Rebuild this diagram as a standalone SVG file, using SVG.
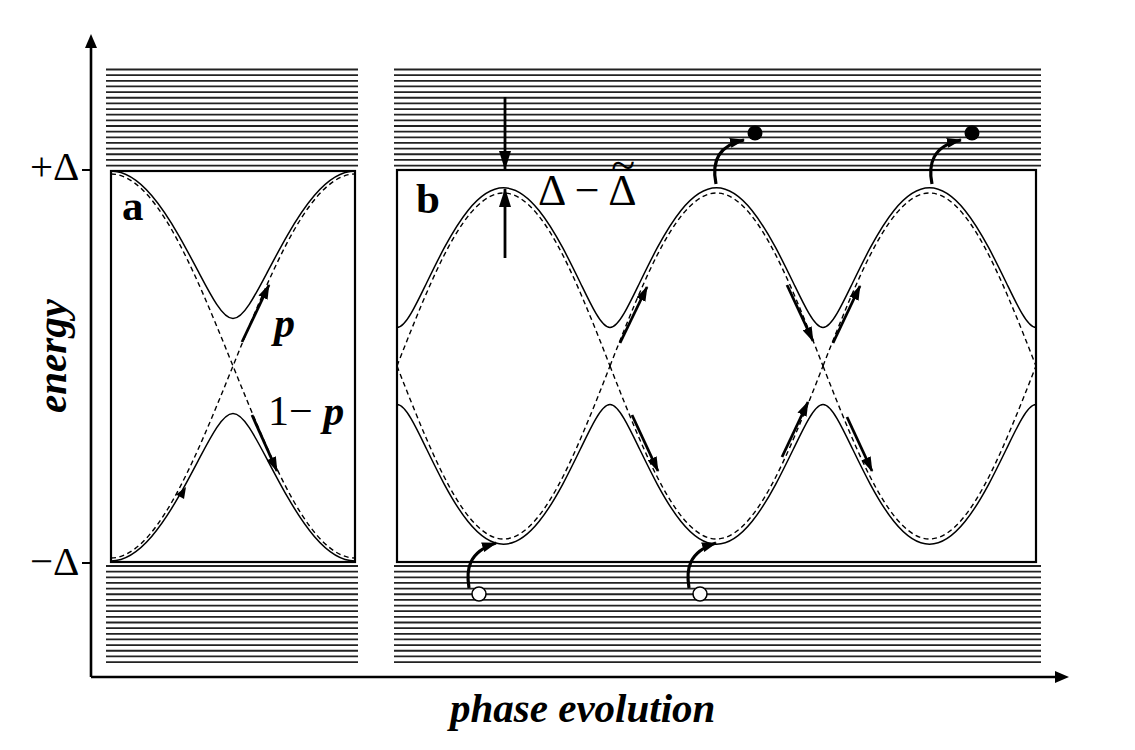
<svg xmlns="http://www.w3.org/2000/svg" xmlns:xlink="http://www.w3.org/1999/xlink" width="1135" height="750" viewBox="0 0 1135 750">
<style>
.hatch{fill:none;stroke:#222;stroke-width:1.8}
.box{fill:none;stroke:#000;stroke-width:2.2}
.arr{fill:none;stroke:#000;stroke-width:2.8}
.carr{fill:none;stroke:#000;stroke-width:3.2}
.serif{font-family:"Liberation Serif","Times New Roman",serif;fill:#000}
.bi{font-weight:bold;font-style:italic}
</style>
<defs>
<marker id="ah" viewBox="0 0 15 10" refX="14" refY="5" markerWidth="15" markerHeight="10" markerUnits="userSpaceOnUse" orient="auto"><path d="M0,0L15,5L0,10z" fill="#000"/></marker>
<marker id="ahL" viewBox="0 0 19 12" refX="18" refY="6" markerWidth="19" markerHeight="12" markerUnits="userSpaceOnUse" orient="auto"><path d="M0,0L19,6L0,12z" fill="#000"/></marker>
<path id="aU" fill="none" stroke="#000" stroke-width="1.5" d="M111,171.12 C124.55,171.12 138.11,179.73 151.66,195.57 C160.70,206.13 169.74,219.87 178.78,235.56 C185.56,247.33 192.33,260.22 199.11,273.07 C204.98,284.20 210.86,295.44 216.73,304.35 C222.15,312.58 227.58,318.5 233,318.5 C238.42,318.5 243.85,312.58 249.27,304.35 C255.14,295.44 261.02,284.20 266.89,273.07 C273.67,260.22 280.44,247.33 287.22,235.56 C296.26,219.87 305.30,206.13 314.34,195.57 C327.89,179.73 341.45,171.12 355,171.12"/>
<path id="aD" fill="none" stroke="#000" stroke-width="1.4" stroke-dasharray="5 3.5" d="M111,174 C131.33,174 151.67,194.70 172,230.24 C192.33,265.78 212.67,315.74 233,366 C253.33,416.26 273.67,466.22 294,501.76 C314.33,537.30 334.67,558 355,558"/>
<path id="bU" fill="none" stroke="#000" stroke-width="1.5" d="M397,327.5 C401.73,327.5 406.47,321.31 411.20,313.17 C416.33,304.36 421.45,293.57 426.58,283.0 C432.50,270.81 438.41,258.71 444.33,247.71 C452.22,233.04 460.11,220.28 468,210.47 C479.83,195.76 491.67,187.79 503.5,187.79 C515.33,187.79 527.17,195.76 539,210.47 C546.89,220.28 554.78,233.04 562.67,247.71 C568.59,258.71 574.5,270.81 580.42,283.0 C585.55,293.57 590.67,304.36 595.8,313.17 C600.53,321.31 605.27,327.5 610,327.5"/>
<path id="bD" fill="none" stroke="#000" stroke-width="1.4" stroke-dasharray="5 3.5" d="M397,366 C414.75,320.71 432.5,275.70 450.25,243.67 C468,211.64 485.75,193 503.5,193 C521.25,193 539,211.64 556.75,243.67 C574.5,275.70 592.25,320.71 610,366"/>
</defs>
<rect width="1135" height="750" fill="#fff"/>

<g id="hatch">
<path class="hatch" d="M106,69.5H358M106,75.15H358M106,80.8H358M106,86.45H358M106,92.1H358M106,97.75H358M106,103.4H358M106,109.05H358M106,114.7H358M106,120.35H358M106,126H358M106,131.65H358M106,137.3H358M106,142.95H358M106,148.6H358M106,154.25H358M106,159.9H358M106,165.55H358"/>
<path class="hatch" d="M394,69.5H1041M394,75.15H1041M394,80.8H1041M394,86.45H1041M394,92.1H1041M394,97.75H1041M394,103.4H1041M394,109.05H1041M394,114.7H1041M394,120.35H1041M394,126H1041M394,131.65H1041M394,137.3H1041M394,142.95H1041M394,148.6H1041M394,154.25H1041M394,159.9H1041M394,165.55H1041"/>
<path class="hatch" d="M106,566H358M106,571.65H358M106,577.3H358M106,582.95H358M106,588.6H358M106,594.25H358M106,599.9H358M106,605.55H358M106,611.2H358M106,616.85H358M106,622.5H358M106,628.15H358M106,633.8H358M106,639.45H358M106,645.1H358M106,650.75H358M106,656.4H358M106,662.05H358"/>
<path class="hatch" d="M394,566H1041M394,571.65H1041M394,577.3H1041M394,582.95H1041M394,588.6H1041M394,594.25H1041M394,599.9H1041M394,605.55H1041M394,611.2H1041M394,616.85H1041M394,622.5H1041M394,628.15H1041M394,633.8H1041M394,639.45H1041M394,645.1H1041M394,650.75H1041M394,656.4H1041M394,662.05H1041"/>
</g>

<g id="axes">
<path d="M91,677V46M91,677H1057" fill="none" stroke="#000" stroke-width="2.6"/>
<path d="M85,48L91,34L97,48z" fill="#000"/>
<path d="M1055,671L1069,677L1055,683z" fill="#000"/>
<path d="M82,170H91M82,563H91" fill="none" stroke="#000" stroke-width="2"/>
<text class="serif" x="30" y="180" font-size="41">+Δ</text>
<text class="serif" x="30" y="575" font-size="41">−Δ</text>
<text class="serif bi" font-size="41" text-anchor="middle" transform="translate(66,356) rotate(-90)">energy</text>
<text class="serif bi" x="450" y="722" font-size="41">phase evolution</text>
</g>

<g id="panel-a">
<use xlink:href="#aD"/>
<use xlink:href="#aD" transform="translate(0,732) scale(1,-1)"/>
<use xlink:href="#aU"/>
<use xlink:href="#aU" transform="translate(0,732) scale(1,-1)"/>
<rect class="box" x="111" y="171" width="244" height="391"/>
<text class="serif" x="122" y="220" font-size="43" font-weight="bold">a</text>
<text class="serif bi" x="274" y="337" font-size="42">p</text>
<text class="serif" x="268" y="425" font-size="42">1− <tspan class="bi">p</tspan></text>
</g>

<g id="panel-b">
<use xlink:href="#bD"/>
<use xlink:href="#bD" x="213"/>
<use xlink:href="#bD" x="426"/>
<use xlink:href="#bD" transform="translate(0,732) scale(1,-1)"/>
<use xlink:href="#bD" transform="translate(213,732) scale(1,-1)"/>
<use xlink:href="#bD" transform="translate(426,732) scale(1,-1)"/>
<use xlink:href="#bU"/>
<use xlink:href="#bU" x="213"/>
<use xlink:href="#bU" x="426"/>
<use xlink:href="#bU" transform="translate(0,732) scale(1,-1)"/>
<use xlink:href="#bU" transform="translate(213,732) scale(1,-1)"/>
<use xlink:href="#bU" transform="translate(426,732) scale(1,-1)"/>
<rect class="box" x="397" y="170" width="639" height="392"/>
<text class="serif" x="416" y="213" font-size="43" font-weight="bold">b</text>
<text class="serif" x="538" y="205" font-size="44">Δ − Δ<tspan dx="-25.4" dy="-25">~</tspan></text>
</g>

<g id="connectors">
<path class="arr" d="M242,342L269,285" marker-end="url(#ah)"/>
<path class="arr" d="M252,415L277,471" marker-end="url(#ah)"/>
<path d="M186,487L184,499L176,494.5z" fill="#000"/>
<path class="arr" d="M505,97V169" marker-end="url(#ahL)"/>
<path class="arr" d="M505,258V189" marker-end="url(#ahL)"/>
<path class="arr" d="M620,343L647,287" marker-end="url(#ah)"/>
<path class="arr" d="M632,415L658,471" marker-end="url(#ah)"/>
<path class="arr" d="M787,285L813,341" marker-end="url(#ah)"/>
<path class="arr" d="M833,343L860,286" marker-end="url(#ah)"/>
<path class="arr" d="M782,457L808,402" marker-end="url(#ah)"/>
<path class="arr" d="M847,417L872,471" marker-end="url(#ah)"/>
<path class="carr" d="M469,588C466,570 468,552 496,543" marker-end="url(#ah)"/>
<path class="carr" d="M689,588C686,570 688,552 716,543" marker-end="url(#ah)"/>
<path class="carr" d="M716,184C712,165 716,146 744,140" marker-end="url(#ah)"/>
<path class="carr" d="M932,184C928,165 932,146 961,140" marker-end="url(#ah)"/>
<circle cx="479" cy="594" r="7" fill="#fff" stroke="#000" stroke-width="1.5"/>
<circle cx="700" cy="594" r="7" fill="#fff" stroke="#000" stroke-width="1.5"/>
<circle cx="755" cy="133" r="7.5" fill="#000"/>
<circle cx="972" cy="133" r="7.5" fill="#000"/>
</g>
</svg>
